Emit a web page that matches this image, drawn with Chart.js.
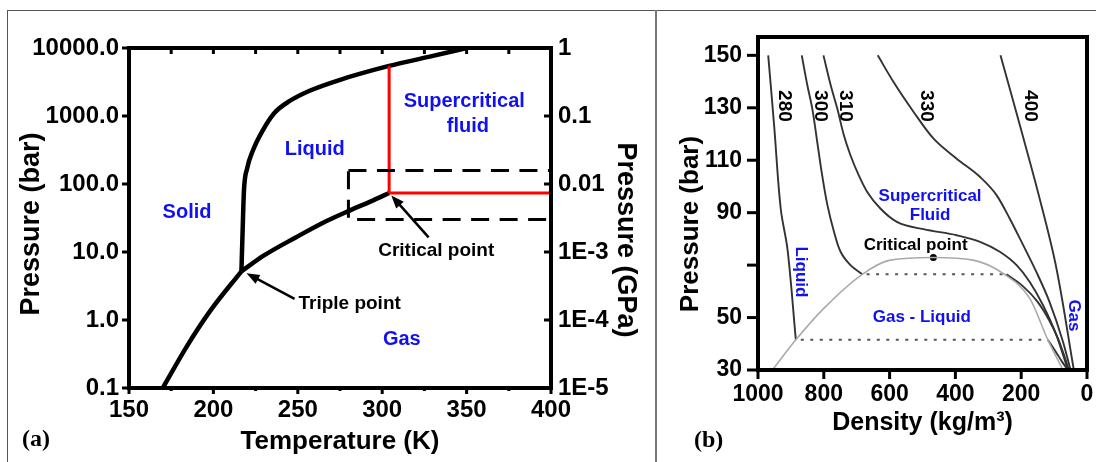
<!DOCTYPE html>
<html>
<head>
<meta charset="utf-8">
<script src="https://cdn.jsdelivr.net/npm/chart.js@4.4.1/dist/chart.umd.min.js"></script>
<style>
  body { margin: 0; background: #fff; width: 1096px; height: 462px; overflow: hidden; position: relative; }
  #frame { position: absolute; left: 7px; top: 10px; width: 1089px; height: 452px; border-top: 1px solid #555; border-left: 1px solid #555; box-sizing: border-box; }
  #divider { position: absolute; left: 655px; top: 10px; width: 2px; height: 452px; background: #777; }
  #chartA { position: absolute; left: 0; top: 0; }
  #chartB { position: absolute; left: 656px; top: 0; }
  .tag { position: absolute; font: bold 24px "Liberation Serif", serif; color: #000; }
</style>
</head>
<body>
<div id="frame"></div>
<div id="divider"></div>
<canvas id="chartA" width="656" height="462"></canvas>
<canvas id="chartB" width="440" height="462"></canvas>
<div class="tag" style="left:22px; top:425px;">(a)</div>
<div class="tag" style="left:694px; top:426px;">(b)</div>
<script>
// CO2 phase diagram (a) and density isotherms (b)
const FONT = "'Liberation Sans', Arial, sans-serif";
Chart.defaults.font.family = FONT;
Chart.defaults.font.weight = 'bold';
Chart.defaults.color = '#000';

// ---- panel (a) data ----
const tempTicks = [150, 200, 250, 300, 350, 400];
const tempMinorTicks = [175, 225, 275, 325, 375];
const barTicks = [0.1, 1, 10, 100, 1000, 10000];
const gpaTicks = [1e-5, 1e-4, 1e-3, 0.01, 0.1, 1];
const gpaTickLabels = ['1E-5', '1E-4', '1E-3', '0.01', '0.1', '1'];

const sublimationT = [170, 184, 198, 216.6];
const sublimationP = [0.1, 0.4, 1.35, 5.2];
const vaporT = [216.6, 230, 249, 265, 281, 295, 304.1];
const vaporP = [5.2, 8.9, 16.5, 27, 41, 58, 73.8];
const meltingT = [216.6, 217.3, 218.1, 220, 223.4, 229, 236, 245, 257, 274.6, 304.1, 327.5, 350];
const meltingP = [5.2, 20, 80, 170, 311, 600, 1100, 1650, 2350, 3380, 5450, 7400, 10000];
const criticalLineT = [304.1, 304.1];      // red vertical, critical temperature
const criticalLineP = [73.8, 5450];
const criticalPresT = [304.1, 400];         // red horizontal, critical pressure
const criticalPresP = [73.8, 73.8];
const zoomBoxT = [280, 400, 400, 280, 280]; // dashed region shown in (b)
const zoomBoxP = [158, 158, 30, 30, 158];

// ---- panel (b) data ----
const densityTicks = [0, 200, 400, 600, 800, 1000];
const pressureTicksB = [30, 50, 70, 90, 110, 130, 150];

const iso280Rho = [969, 951, 931, 910, 885];
const iso280P   = [150, 123.3, 91.6, 75.7, 41.5];
const iso280VapRho = [119, 95, 75, 58];
const iso280VapP   = [41.5, 37, 33, 30];
const iso300Rho = [867, 850, 835, 820, 805, 789, 769, 749, 719, 683];
const iso300P   = [150, 138.6, 129.7, 117, 104.3, 92.9, 82.7, 75.1, 70, 66.5];
const iso300VapRho = [245, 195, 150, 115, 88, 68, 55];
const iso300VapP   = [66.5, 62, 56, 49, 42, 35, 30];
const iso310Rho = [801, 779, 759, 739, 719, 694, 668, 628, 578, 497, 396, 325, 265, 214, 174, 134, 93, 58];
const iso310P   = [150, 138.6, 129.7, 119.5, 111.9, 104.3, 97.9, 91.6, 86.5, 83.7, 81.4, 78.9, 75.1, 70, 63.6, 54.8, 43.3, 30];
const iso330Rho = [636, 588, 527, 467, 396, 325, 275, 235, 194, 154, 114, 73, 50];
const iso330P   = [150, 139.8, 128.4, 118.3, 110.6, 103.6, 96.7, 87.8, 77.6, 67.4, 56, 40.8, 30];
const iso400Rho = [263, 204, 144, 93, 40];
const iso400P   = [150, 123.3, 95.4, 68.8, 30];
const domeRho = [956, 885, 800, 683, 598, 467, 346, 255, 174, 119, 73];
const domeP   = [30, 41.5, 53.5, 66.5, 71.9, 72.9, 71.9, 66.8, 57.3, 41.5, 30];
const tie280Rho = [870, 119];
const tie280P   = [41.5, 41.5];
const tie300Rho = [670, 245];
const tie300P   = [66.5, 66.5];
const criticalRho = [467];
const criticalP   = [72.9];

function pts(xs, ys) {
  return xs.map((x, i) => ({ x: x, y: ys[i] }));
}

function line(ctx, x1, y1, x2, y2) {
  ctx.beginPath();
  ctx.moveTo(x1, y1);
  ctx.lineTo(x2, y2);
  ctx.stroke();
}

// plain text at a pixel spot, rotation in quarter turns
function text(ctx, str, x, y, size, rot, color) {
  ctx.save();
  ctx.translate(x, y);
  if (rot) ctx.rotate(rot * Math.PI / 2);
  ctx.font = 'bold ' + size + 'px ' + FONT;
  ctx.fillStyle = color || '#000';
  ctx.textAlign = 'center';
  ctx.textBaseline = 'middle';
  ctx.fillText(str, 0, 0);
  ctx.restore();
}

// text label anchored at data coordinates, optionally rotated clockwise
function drawLabels(chart, labels, xs, ys) {
  labels.forEach(l => {
    const px = chart.scales[xs].getPixelForValue(l.at[0]);
    const py = chart.scales[ys].getPixelForValue(l.at[1]);
    text(chart.ctx, l.text, px, py, l.size, l.rot ? 1 : 0, l.color);
  });
}

function arrow(ctx, x1, y1, x2, y2) {
  const ang = Math.atan2(y2 - y1, x2 - x1);
  const head = 13, half = 5;
  ctx.lineWidth = 2.5;
  line(ctx, x1, y1, x2 - Math.cos(ang) * head * 0.8, y2 - Math.sin(ang) * head * 0.8);
  ctx.beginPath();
  ctx.moveTo(x2, y2);
  ctx.lineTo(x2 - Math.cos(ang) * head - Math.sin(ang) * half, y2 - Math.sin(ang) * head + Math.cos(ang) * half);
  ctx.lineTo(x2 - Math.cos(ang) * head + Math.sin(ang) * half, y2 - Math.sin(ang) * head - Math.cos(ang) * half);
  ctx.closePath();
  ctx.fill();
}

const BLUE = '#1010f0';
const labelsA = [
  { text: 'Solid', at: [184.4, 38], color: BLUE, size: 20 },
  { text: 'Liquid', at: [260, 327], color: BLUE, size: 20 },
  { text: 'Supercritical', at: [348.6, 1660], color: BLUE, size: 20 },
  { text: 'fluid', at: [350.8, 713], color: BLUE, size: 20 },
  { text: 'Gas', at: [311.6, 0.51], color: BLUE, size: 20 },
  { text: 'Critical point', at: [332, 10.3], color: '#000', size: 19 },
  { text: 'Triple point', at: [280.7, 1.76], color: '#000', size: 19 }
];
// arrows: [tailT, tailP, tipT, tipP]
const arrowsA = [
  [248.1, 2.04, 219.6, 4.86],
  [327.5, 16.4, 305.4, 68]
];

const decorA = {
  id: 'decorA',
  afterDraw(chart) {
    const { ctx, chartArea: a, scales: { x, y, y2 } } = chart;
    ctx.save();
    ctx.strokeStyle = '#000';
    ctx.fillStyle = '#000';
    ctx.lineWidth = 3;
    tempTicks.forEach(v => {
      const px = x.getPixelForValue(v);
      line(ctx, px, a.bottom, px, a.bottom + 6);
      line(ctx, px, a.top, px, a.top + 6);
    });
    tempMinorTicks.forEach(v => {
      const px = x.getPixelForValue(v);
      line(ctx, px, a.bottom, px, a.bottom + 3);
      line(ctx, px, a.top, px, a.top + 6);
    });
    barTicks.forEach(v => {
      const py = y.getPixelForValue(v);
      line(ctx, a.left - 7, py, a.left, py);
    });
    gpaTicks.forEach(v => {
      const py = y2.getPixelForValue(v);
      line(ctx, a.right - 7, py, a.right, py);
    });
    ctx.lineWidth = 4;
    ctx.strokeRect(a.left, a.top, a.right - a.left, a.bottom - a.top);
    arrowsA.forEach(r => arrow(ctx, x.getPixelForValue(r[0]), y.getPixelForValue(r[1]),
      x.getPixelForValue(r[2]), y.getPixelForValue(r[3])));
    ctx.restore();
    drawLabels(chart, labelsA, 'x', 'y');
    // vertical axis titles
    text(ctx, 'Pressure (bar)', 32, 224, 27, -1);
    text(ctx, 'Pressure (GPa)', 625, 240, 27, 1);
  }
};

new Chart(document.getElementById('chartA'), {
  type: 'line',
  data: {
    datasets: [
      { data: pts(zoomBoxT, zoomBoxP), borderColor: '#000', borderWidth: 3, borderDash: [18, 10.5], tension: 0 },
      { data: pts(criticalLineT, criticalLineP), borderColor: '#ff0000', borderWidth: 3, tension: 0 },
      { data: pts(criticalPresT, criticalPresP), borderColor: '#ff0000', borderWidth: 3, tension: 0 },
      { data: pts(sublimationT, sublimationP), borderColor: '#000', borderWidth: 4.5, cubicInterpolationMode: 'monotone' },
      { data: pts(vaporT, vaporP), borderColor: '#000', borderWidth: 4.5, cubicInterpolationMode: 'monotone' },
      { data: pts(meltingT, meltingP), borderColor: '#000', borderWidth: 4.5, cubicInterpolationMode: 'monotone' }
    ]
  },
  options: {
    responsive: false,
    animation: false,
    elements: { point: { radius: 0 } },
    layout: { padding: { top: 48, left: 0, right: 0, bottom: 0 } },
    plugins: { legend: { display: false }, tooltip: { enabled: false } },
    scales: {
      x: {
        type: 'linear', min: 150, max: 400,
        afterBuildTicks: s => { s.ticks = tempTicks.map(v => ({ value: v })); },
        afterFit: s => { s.height = 74; },
        ticks: { font: { size: 24 }, padding: 2, maxRotation: 0, autoSkip: false, callback: v => String(v) },
        grid: { drawOnChartArea: false, color: 'rgba(0,0,0,0)', tickLength: 6 },
        border: { display: false },
        title: { display: true, text: 'Temperature (K)', font: { size: 26 }, padding: { top: 0, bottom: 5 } }
      },
      y: {
        type: 'logarithmic', position: 'left', min: 0.1, max: 10000,
        afterBuildTicks: s => { s.ticks = barTicks.map(v => ({ value: v })); },
        afterFit: s => { s.width = 129; },
        ticks: { font: { size: 24 }, padding: 3, autoSkip: false, callback: v => Number(v).toFixed(1) },
        grid: { drawOnChartArea: false, color: 'rgba(0,0,0,0)', tickLength: 7 },
        border: { display: false }
      },
      y2: {
        type: 'logarithmic', position: 'right', min: 1e-5, max: 1,
        afterBuildTicks: s => { s.ticks = gpaTicks.map(v => ({ value: v })); },
        afterFit: s => { s.width = 105; },
        ticks: { font: { size: 24 }, padding: 3, autoSkip: false, callback: v => gpaTickLabels[gpaTicks.indexOf(v)] },
        grid: { drawOnChartArea: false, color: 'rgba(0,0,0,0)', tickLength: 4 },
        border: { display: false }
      }
    }
  },
  plugins: [decorA]
});

// ---- panel (b) ----
const labelsB = [
  { text: '280', at: [921, 130.7], color: '#000', size: 19, rot: true },
  { text: '300', at: [812, 130.7], color: '#000', size: 19, rot: true },
  { text: '310', at: [734, 130.7], color: '#000', size: 19, rot: true },
  { text: '330', at: [490, 130.7], color: '#000', size: 19, rot: true },
  { text: '400', at: [174, 130.7], color: '#000', size: 19, rot: true },
  { text: 'Liquid', at: [870, 67.4], color: BLUE, size: 17, rot: true },
  { text: 'Gas', at: [40, 50.8], color: BLUE, size: 17, rot: true },
  { text: 'Supercritical', at: [477, 96.4], color: BLUE, size: 17 },
  { text: 'Fluid', at: [477, 89], color: BLUE, size: 17 },
  { text: 'Critical point', at: [521, 77.6], color: '#000', size: 17 },
  { text: 'Gas - Liquid', at: [502, 50.1], color: BLUE, size: 17 }
];

const decorB = {
  id: 'decorB',
  afterDraw(chart) {
    const { ctx, chartArea: a, scales: { x, y } } = chart;
    ctx.save();
    ctx.strokeStyle = '#000';
    ctx.lineWidth = 3;
    densityTicks.forEach(v => {
      const px = x.getPixelForValue(v);
      line(ctx, px, a.bottom, px, a.bottom + 9);
    });
    pressureTicksB.forEach(v => {
      const py = y.getPixelForValue(v);
      line(ctx, a.left - 11, py, a.left, py);
    });
    ctx.lineWidth = 4;
    ctx.strokeRect(a.left, a.top, a.right - a.left, a.bottom - a.top);
    ctx.restore();
    drawLabels(chart, labelsB, 'x', 'y');
    text(ctx, 'Pressure (bar)', 35, 224, 26, -1);
  }
};

const isoStyle = { borderColor: '#333', borderWidth: 1.9, cubicInterpolationMode: 'monotone' };
const steepStyle = { borderColor: '#333', borderWidth: 1.9, tension: 0.35 };
const tieStyle = { borderColor: '#555', borderWidth: 2, borderDash: [3, 6.5], tension: 0 };

new Chart(document.getElementById('chartB'), {
  type: 'line',
  data: {
    datasets: [
      { data: pts(domeRho, domeP), borderColor: '#aaa', borderWidth: 1.6, cubicInterpolationMode: 'monotone' },
      Object.assign({ data: pts(tie280Rho, tie280P) }, tieStyle),
      Object.assign({ data: pts(tie300Rho, tie300P) }, tieStyle),
      Object.assign({ data: pts(iso280Rho, iso280P) }, steepStyle),
      Object.assign({ data: pts(iso280VapRho, iso280VapP) }, isoStyle),
      Object.assign({ data: pts(iso300Rho, iso300P) }, steepStyle),
      Object.assign({ data: pts(iso300VapRho, iso300VapP) }, isoStyle),
      Object.assign({ data: pts(iso310Rho, iso310P) }, isoStyle),
      Object.assign({ data: pts(iso330Rho, iso330P) }, isoStyle),
      Object.assign({ data: pts(iso400Rho, iso400P) }, steepStyle),
      { data: pts(criticalRho, criticalP), showLine: false, pointRadius: 3.5, pointBackgroundColor: '#000', pointBorderWidth: 0 }
    ]
  },
  options: {
    responsive: false,
    animation: false,
    elements: { point: { radius: 0 } },
    layout: { padding: { top: 37, left: 0, right: 9, bottom: 0 } },
    plugins: { legend: { display: false }, tooltip: { enabled: false } },
    scales: {
      x: {
        type: 'linear', min: 0, max: 1000, reverse: true,
        afterBuildTicks: s => { s.ticks = densityTicks.map(v => ({ value: v })); },
        afterFit: s => { s.height = 92; },
        ticks: { font: { size: 23 }, padding: 2, maxRotation: 0, autoSkip: false, callback: v => String(v) },
        grid: { drawOnChartArea: false, color: 'rgba(0,0,0,0)', tickLength: 9 },
        border: { display: false },
        title: { display: true, text: 'Density (kg/m\u00b3)', font: { size: 25 }, padding: { top: 0, bottom: 24 } }
      },
      y: {
        type: 'linear', min: 30, max: 157,
        afterBuildTicks: s => { s.ticks = pressureTicksB.map(v => ({ value: v })); },
        afterFit: s => { s.width = 102; },
        ticks: { font: { size: 23 }, padding: 5, autoSkip: false, callback: v => (v === 70 ? '' : String(v)) },
        grid: { drawOnChartArea: false, color: 'rgba(0,0,0,0)', tickLength: 11 },
        border: { display: false }
      }
    }
  },
  plugins: [decorB]
});
</script>
</body>
</html>
